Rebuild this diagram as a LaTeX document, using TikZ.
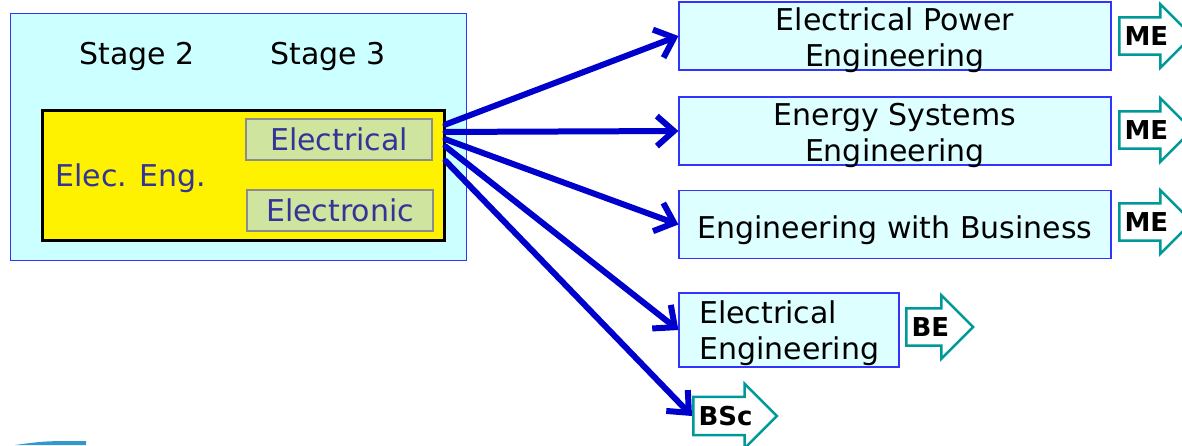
\documentclass[tikz,border=0pt]{standalone}
\usepackage{fontspec}
\setmainfont{DejaVu Sans}
\usepackage{tikz}
\usetikzlibrary{shapes.arrows}
\usetikzlibrary{arrows.meta}
\definecolor{stagebg}{RGB}{204,255,255}
\definecolor{progbg}{RGB}{222,255,255}
\definecolor{boxline}{RGB}{51,51,255}
\definecolor{optgreen}{RGB}{207,228,158}
\definecolor{navytext}{RGB}{51,51,153}
\definecolor{linkblue}{RGB}{0,0,204}
\definecolor{tagteal}{RGB}{0,153,153}
\definecolor{swoosh}{RGB}{51,153,204}

\begin{document}
\begin{tikzpicture}[x=1pt,y=-1pt]
\tikzstyle{txt}=[font=\fontsize{30}{36}\selectfont, inner sep=0pt]
\tikzstyle{stagebox}=[fill=stagebg, draw=boxline, line width=1pt, minimum width=456pt, minimum height=247pt, inner sep=0pt]
\tikzstyle{engbox}=[fill=yellow, draw=black, line width=3pt, minimum width=402pt, minimum height=130pt, inner sep=0pt]
\tikzstyle{optbox}=[txt, fill=optgreen, draw=black!45, line width=2.5pt, text=navytext, minimum width=186pt, minimum height=41pt]
\tikzstyle{prog}=[fill=progbg, draw=boxline, line width=1.2pt, minimum width=432pt, minimum height=68pt, inner sep=0pt]
\tikzstyle{tag}=[single arrow, draw=tagteal, fill=white, line width=2.5pt, font=\fontsize{26}{26}\selectfont\bfseries, single arrow head extend=13pt, single arrow head indent=0pt, inner xsep=4pt, inner ysep=8pt, anchor=tail]
\tikzstyle{link}=[draw=linkblue, line width=6pt, line cap=round, -{Straight Barb[length=17pt,width=30pt]}]
\useasboundingbox (0,0) rectangle (1182,445);
\node[stagebox] (S) at (238,136.5) {};
\node[txt] (S2) at (137,56) {Stage 2};
\node[txt] (S3) at (328,56) {Stage 3};
\node[engbox] (EE) at (243,175) {};
\node[txt, text=navytext] (EEtxt) at (131,178) {Elec. Eng.};
\node[optbox] (OE1) at (339,139.5) {Electrical};
\node[optbox] (OE2) at (340,210.5) {Electronic};

\node[prog] (P1) at (895,36) {};
\node[txt, align=center] (P1t) at (895,40) {Electrical Power\\Engineering};
\node[prog] (P2) at (895,131) {};
\node[txt, align=center] (P2t) at (895,135) {Energy Systems\\Engineering};
\node[prog] (P3) at (895,224.5) {};
\node[txt] (P3t) at (895,230.5) {Engineering with Business};
\node[prog, minimum width=220pt, minimum height=74pt] (P4) at (789,330) {};
\node[txt, align=left, anchor=west] (P4t) at (699,333) {Electrical\\Engineering};

\node[tag, minimum height=67pt] (ME1) at (1118,36) {ME};
\node[tag, minimum height=67pt] (ME2) at (1118,130) {ME};
\node[tag, minimum height=67pt] (ME3) at (1118,222) {ME};
\node[tag, minimum height=65pt] (BE) at (905,327) {BE};
\node[tag, minimum height=81pt] (BSc) at (692,416) {BSc};

\draw[link] (EE.14) -- (P1.west);
\draw[link] (EE.12) -- (P2.west);
\draw[link] (EE.10) -- (P3.west);
\draw[link] (EE.8) -- (P4.west);
\draw[link] (EE.4) -- (BSc.tail);

\fill[swoosh] (15,445) .. controls (45,441) .. (86,441) -- (86,445) -- cycle;
\end{tikzpicture}
\end{document}
